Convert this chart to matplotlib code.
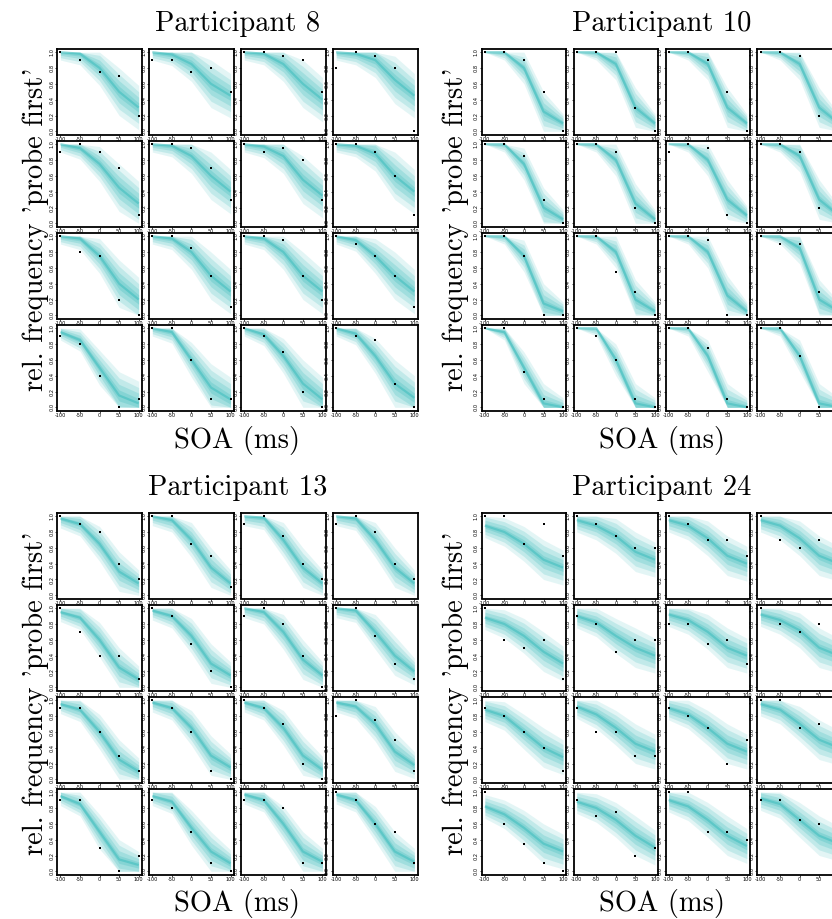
import numpy as np
import matplotlib.pyplot as plt

soa = [-100, -50, 0, 50, 100]
yticks = [0.0, 0.2, 0.4, 0.6, 0.8, 1.0]
participants = ['8', '10', '13', '24']

# observed relative frequency of 'probe first' per block (4x4 grid, row-major)
obs_p8 = [
    [1.0, 0.9, 0.75, 0.7, 0.2], [0.9, 0.9, 0.75, 0.8, 0.5], [1.0, 1.0, 0.95, 0.9, 0.5], [0.8, 1.0, 0.95, 0.8, 0.0],
    [0.9, 1.0, 0.9, 0.7, 0.1], [1.0, 1.0, 0.95, 0.7, 0.3], [1.0, 0.9, 0.95, 0.8, 0.3], [1.0, 1.0, 0.9, 0.6, 0.1],
    [1.0, 0.8, 0.75, 0.2, 0.0], [1.0, 1.0, 0.85, 0.5, 0.1], [1.0, 1.0, 0.95, 0.5, 0.2], [1.0, 0.9, 0.75, 0.5, 0.1],
    [0.9, 0.8, 0.4, 0.0, 0.1], [1.0, 1.0, 0.6, 0.1, 0.1], [1.0, 0.9, 0.7, 0.2, 0.0], [1.0, 0.9, 0.85, 0.3, 0.0],
]
obs_p10 = [
    [1.0, 1.0, 0.9, 0.5, 0.0], [1.0, 1.0, 1.0, 0.3, 0.0], [1.0, 1.0, 0.9, 0.5, 0.0], [1.0, 1.0, 0.95, 0.2, 0.0],
    [1.0, 1.0, 0.85, 0.3, 0.0], [1.0, 1.0, 0.9, 0.2, 0.0], [0.9, 1.0, 0.95, 0.1, 0.0], [1.0, 1.0, 0.9, 0.2, 0.0],
    [1.0, 1.0, 0.75, 0.0, 0.0], [1.0, 1.0, 0.55, 0.3, 0.0], [1.0, 1.0, 0.95, 0.0, 0.0], [1.0, 0.9, 0.9, 0.3, 0.0],
    [1.0, 1.0, 0.45, 0.1, 0.0], [1.0, 0.9, 0.6, 0.1, 0.0], [1.0, 1.0, 0.75, 0.1, 0.0], [1.0, 1.0, 0.65, 0.0, 0.0],
]
obs_p13 = [
    [1.0, 0.9, 0.8, 0.4, 0.2], [1.0, 1.0, 0.65, 0.5, 0.1], [0.9, 1.0, 0.75, 0.4, 0.2], [0.9, 1.0, 0.8, 0.4, 0.2],
    [1.0, 0.7, 0.4, 0.4, 0.1], [1.0, 0.9, 0.55, 0.2, 0.0], [0.9, 1.0, 0.8, 0.4, 0.0], [1.0, 1.0, 0.65, 0.3, 0.1],
    [0.9, 0.9, 0.6, 0.3, 0.1], [1.0, 0.9, 0.6, 0.1, 0.0], [1.0, 0.9, 0.7, 0.2, 0.0], [0.8, 1.0, 0.75, 0.5, 0.1],
    [0.9, 0.9, 0.3, 0.0, 0.2], [0.9, 0.8, 0.5, 0.1, 0.0], [0.9, 0.9, 0.8, 0.1, 0.1], [1.0, 0.9, 0.6, 0.5, 0.1],
]
obs_p24 = [
    [1.0, 1.0, 0.65, 0.9, 0.5], [1.0, 0.9, 0.75, 0.6, 0.6], [1.0, 0.9, 0.7, 0.7, 0.5], [1.0, 0.7, 0.6, 0.7, 0.5],
    [1.0, 0.6, 0.5, 0.6, 0.1], [0.9, 0.8, 0.45, 0.6, 0.6], [0.8, 0.8, 0.55, 0.6, 0.3], [1.0, 0.8, 0.7, 0.8, 0.4],
    [0.9, 0.8, 0.6, 0.4, 0.1], [0.9, 0.6, 0.6, 0.3, 0.3], [0.9, 0.8, 0.65, 0.2, 0.5], [1.0, 1.0, 0.65, 0.7, 0.4],
    [1.0, 0.6, 0.35, 0.1, 0.0], [0.9, 0.7, 0.75, 0.2, 0.3], [1.0, 1.0, 0.5, 0.5, 0.4], [0.9, 0.9, 0.65, 0.6, 0.4],
]

# posterior predictive median per block
med_p8 = [
    [1.0, 0.98, 0.8, 0.5, 0.3], [1.0, 0.97, 0.85, 0.6, 0.45], [1.0, 0.98, 0.85, 0.6, 0.4], [1.0, 0.98, 0.9, 0.65, 0.45],
    [1.0, 0.95, 0.75, 0.45, 0.25], [1.0, 0.98, 0.85, 0.6, 0.4], [1.0, 0.97, 0.85, 0.55, 0.35], [1.0, 0.98, 0.88, 0.6, 0.4],
    [1.0, 0.97, 0.75, 0.4, 0.2], [1.0, 0.97, 0.8, 0.5, 0.3], [1.0, 0.97, 0.8, 0.5, 0.3], [1.0, 0.95, 0.75, 0.5, 0.3],
    [0.95, 0.85, 0.5, 0.15, 0.05], [1.0, 0.95, 0.6, 0.25, 0.1], [1.0, 0.92, 0.65, 0.3, 0.1], [1.0, 0.93, 0.65, 0.3, 0.12],
]
med_p10 = [
    [1.0, 1.0, 0.8, 0.25, 0.1], [1.0, 1.0, 0.85, 0.3, 0.1], [1.0, 1.0, 0.85, 0.3, 0.1], [1.0, 1.0, 0.85, 0.3, 0.1],
    [1.0, 1.0, 0.75, 0.2, 0.05], [1.0, 1.0, 0.8, 0.25, 0.05], [1.0, 1.0, 0.8, 0.3, 0.1], [1.0, 1.0, 0.85, 0.3, 0.1],
    [1.0, 1.0, 0.75, 0.15, 0.05], [1.0, 1.0, 0.8, 0.2, 0.05], [1.0, 1.0, 0.8, 0.25, 0.05], [1.0, 1.0, 0.85, 0.2, 0.05],
    [1.0, 0.95, 0.5, 0.05, 0.0], [1.0, 1.0, 0.6, 0.05, 0.0], [1.0, 1.0, 0.65, 0.05, 0.0], [1.0, 1.0, 0.65, 0.05, 0.0],
]
med_p13 = [
    [0.97, 0.9, 0.65, 0.3, 0.15], [1.0, 0.95, 0.7, 0.35, 0.15], [1.0, 0.98, 0.7, 0.35, 0.15], [1.0, 0.97, 0.7, 0.35, 0.15],
    [0.95, 0.88, 0.6, 0.25, 0.1], [0.97, 0.9, 0.65, 0.3, 0.15], [1.0, 0.95, 0.7, 0.35, 0.15], [1.0, 0.97, 0.7, 0.4, 0.2],
    [0.95, 0.88, 0.6, 0.25, 0.1], [0.97, 0.9, 0.65, 0.3, 0.15], [0.97, 0.9, 0.65, 0.3, 0.12], [0.97, 0.92, 0.7, 0.35, 0.18],
    [0.95, 0.85, 0.5, 0.15, 0.08], [0.95, 0.88, 0.55, 0.25, 0.1], [0.97, 0.9, 0.6, 0.25, 0.12], [0.97, 0.9, 0.6, 0.25, 0.12],
]
med_p24 = [
    [0.88, 0.8, 0.65, 0.45, 0.35], [0.95, 0.88, 0.75, 0.55, 0.45], [0.95, 0.88, 0.72, 0.5, 0.4], [0.95, 0.88, 0.72, 0.5, 0.4],
    [0.88, 0.8, 0.65, 0.45, 0.3], [0.9, 0.82, 0.65, 0.5, 0.4], [0.92, 0.85, 0.7, 0.5, 0.4], [0.92, 0.85, 0.72, 0.5, 0.4],
    [0.88, 0.8, 0.6, 0.4, 0.28], [0.92, 0.82, 0.65, 0.45, 0.35], [0.9, 0.82, 0.65, 0.45, 0.35], [0.95, 0.88, 0.7, 0.5, 0.4],
    [0.82, 0.72, 0.55, 0.35, 0.25], [0.88, 0.8, 0.65, 0.45, 0.3], [0.9, 0.82, 0.65, 0.45, 0.32], [0.92, 0.85, 0.65, 0.45, 0.35],
]

# half-widths of the nested credible bands (outer -> inner) at each SOA
spread_p8 = [[0.10, 0.14, 0.22, 0.30, 0.28], [0.07, 0.10, 0.16, 0.22, 0.20],
             [0.04, 0.06, 0.10, 0.14, 0.13], [0.02, 0.03, 0.05, 0.07, 0.06]]
spread_p10 = [[0.0, 0.10, 0.20, 0.25, 0.12], [0.0, 0.07, 0.14, 0.18, 0.09],
              [0.0, 0.04, 0.09, 0.11, 0.06], [0.0, 0.02, 0.04, 0.05, 0.03]]
spread_p13 = [[0.12, 0.15, 0.22, 0.25, 0.17], [0.08, 0.11, 0.16, 0.18, 0.12],
              [0.05, 0.07, 0.10, 0.11, 0.08], [0.02, 0.03, 0.05, 0.05, 0.04]]
spread_p24 = [[0.15, 0.18, 0.22, 0.25, 0.22], [0.11, 0.13, 0.16, 0.18, 0.16],
              [0.07, 0.08, 0.10, 0.11, 0.10], [0.03, 0.04, 0.05, 0.05, 0.05]]

obs_all = [obs_p8, obs_p10, obs_p13, obs_p24]
med_all = [med_p8, med_p10, med_p13, med_p24]
spread_all = [spread_p8, spread_p10, spread_p13, spread_p24]

teal = '#3dbdbd'
band_alpha = [0.14, 0.2, 0.24, 0.28]
W, H = 832, 919
fig = plt.figure(figsize=(W / 100, H / 100), dpi=100)

# panel grid in pixels
block_x = [57.3, 481.7]
block_y = [49.0, 513.0]
step_x, step_y = 91.9, 92.0
pw, ph = 84.5, 85.5

for k, pid in enumerate(participants):
    bx, by = block_x[k % 2], block_y[k // 2]
    for i in range(16):
        r, c = divmod(i, 4)
        x0 = bx + c * step_x
        y0 = by + r * step_y
        ax = fig.add_axes([x0 / W, 1 - (y0 + ph) / H, pw / W, ph / H])

        med = np.array(med_all[k][i])
        for s, a in zip(spread_all[k], band_alpha):
            s = np.array(s)
            lo = np.clip(med - s, 0, 1)
            hi = np.clip(med + s, 0, 1)
            ax.fill_between(soa, lo, hi, color=teal, alpha=a, lw=0)
        ax.plot(soa, med, color=teal, alpha=0.55, lw=1.6, solid_capstyle='butt')
        ax.plot(soa, obs_all[k][i], 's', color='black', ms=2.0, mew=0)

        ax.set_xlim(-108, 108)
        ax.set_ylim(-0.04, 1.04)
        ax.set_xticks(soa)
        ax.set_xticklabels([str(v) for v in soa])
        ax.set_yticks(yticks)
        ax.set_yticklabels(['%.1f' % v for v in yticks], rotation=90, va='center')
        ax.tick_params(length=1.5, width=0.5, labelsize=3.6, pad=0.6)
        for sp in ax.spines.values():
            sp.set_linewidth(1.3)

    cx = bx + (3 * step_x + pw) / 2
    ylab_x = 36 if k % 2 == 0 else 456
    fig.text(cx / W, 1 - (by - 25) / H, f'Participant {pid}', ha='center', va='center',
             fontsize=20.5, family='cmr10')
    fig.text(ylab_x / W, 1 - (by + 180) / H, "rel. frequency 'probe first'", ha='center', va='center',
             rotation=90, fontsize=20.5, family='cmr10')
    fig.text(cx / W, 1 - (by + 391) / H, 'SOA (ms)', ha='center', va='center',
             fontsize=20.5, family='cmr10')

fig.savefig('out.png', dpi=100)
